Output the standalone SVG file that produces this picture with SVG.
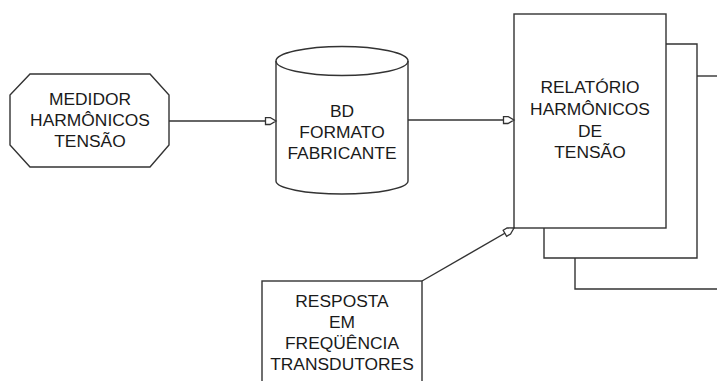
<svg xmlns="http://www.w3.org/2000/svg" width="717" height="381" viewBox="0 0 717 381">
<style>
.s{fill:#fff;stroke:#333;stroke-width:1.4}
.l{fill:none;stroke:#333;stroke-width:1.4}
.t{font-family:"Liberation Sans",Arial,sans-serif;font-size:17.4px;fill:#1a1a1a;text-anchor:middle}
</style>
<defs>
<marker id="a" markerUnits="userSpaceOnUse" markerWidth="14" markerHeight="10" refX="12" refY="4.5" orient="auto">
<path d="M1.5,1 L6,1 L12,4.5 L6,8 L1.5,8 z" fill="#fff" stroke="#333" stroke-width="1.3"/>
</marker>
</defs>
<rect width="717" height="381" fill="#fff"/>
<g id="n-report">
<polyline class="l" points="575,258 575,289 717,289"/>
<polyline class="l" points="697,76 717,76"/>
<polyline class="s" points="544,228 544,258 697,258 697,44 666,44"/>
<rect class="s" x="514" y="14" width="152" height="214"/>
<text class="t" x="590" y="93">RELATÓRIO</text>
<text class="t" x="590" y="115">HARMÔNICOS</text>
<text class="t" x="590" y="137">DE</text>
<text class="t" x="590" y="158">TENSÃO</text>
</g>
<g id="n-medidor">
<polygon class="s" points="30,74 150,74 169,95 169,145 150,167 30,167 10,145 10,95"/>
<text class="t" x="90" y="105">MEDIDOR</text>
<text class="t" x="90" y="126">HARMÔNICOS</text>
<text class="t" x="90" y="147">TENSÃO</text>
</g>
<g id="n-bd">
<path class="s" d="M276,61 L276,181 A66,13 0 0 0 408,181 L408,61 A66,14.5 0 0 0 276,61 Z"/>
<path class="l" d="M276,61 A66,14.5 0 0 0 408,61"/>
<text class="t" x="342" y="117">BD</text>
<text class="t" x="342" y="138">FORMATO</text>
<text class="t" x="342" y="159">FABRICANTE</text>
</g>
<g id="n-resposta">
<rect class="s" x="262" y="281" width="160" height="110"/>
<text class="t" x="342" y="307">RESPOSTA</text>
<text class="t" x="342" y="328">EM</text>
<text class="t" x="342" y="349">FREQÜÊNCIA</text>
<text class="t" x="342" y="370">TRANSDUTORES</text>
</g>
<g id="connectors">
<line class="l" x1="169" y1="121" x2="276" y2="121" marker-end="url(#a)"/>
<line class="l" x1="408" y1="120" x2="514" y2="120" marker-end="url(#a)"/>
<line class="l" x1="422" y1="281" x2="514" y2="228" marker-end="url(#a)"/>
</g>
</svg>
